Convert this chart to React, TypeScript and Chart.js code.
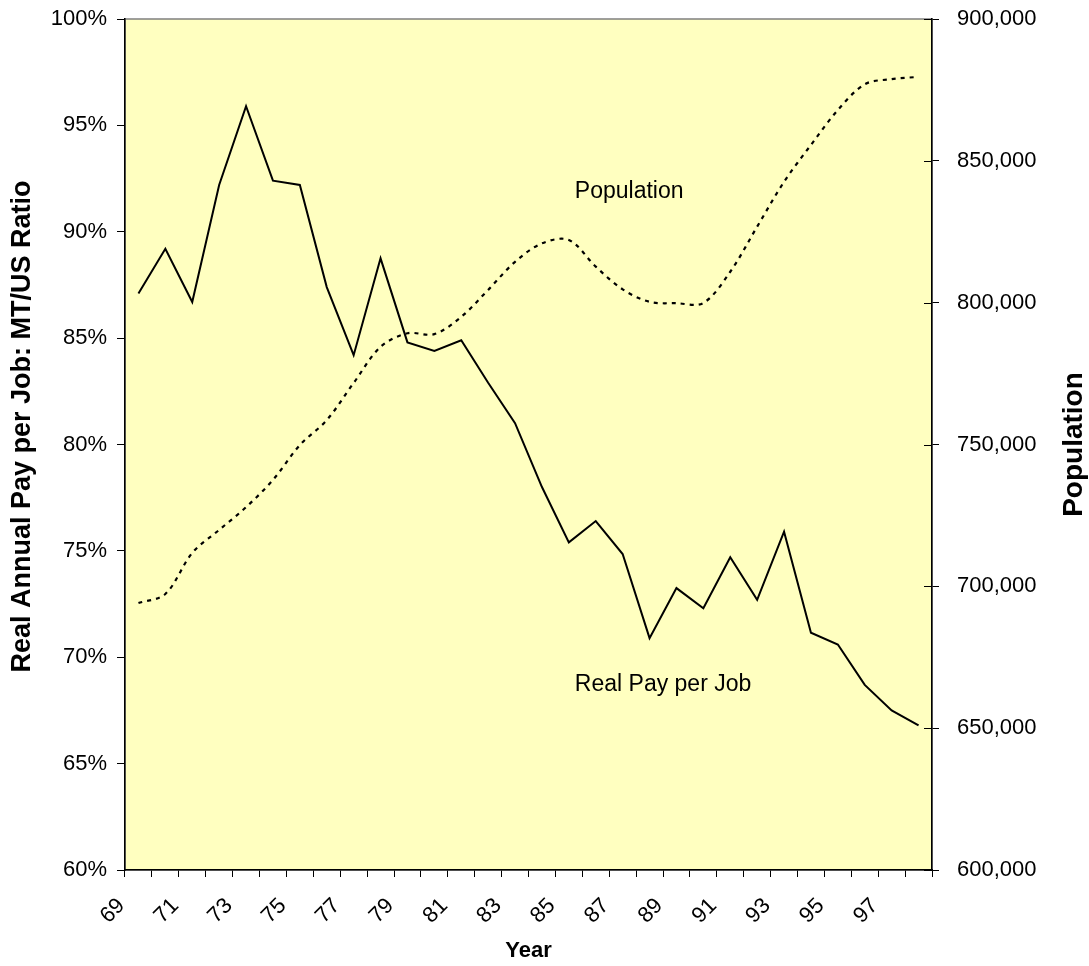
import React, { useEffect, useRef } from 'react';
import { Chart, registerables } from 'chart.js';

Chart.register(...registerables);

// Years 1969–1998, shown as two-digit labels
const years = [
  '69', '70', '71', '72', '73', '74', '75', '76', '77', '78',
  '79', '80', '81', '82', '83', '84', '85', '86', '87', '88',
  '89', '90', '91', '92', '93', '94', '95', '96', '97', '98',
];

// Montana / US real annual pay per job (percent)
const payRatio = [
  87.1, 89.2, 86.7, 92.2, 95.9, 92.4, 92.2, 87.4, 84.2, 88.75,
  84.8, 84.4, 84.9, 82.9, 81.0, 78.0, 75.4, 76.4, 74.85, 70.9,
  73.25, 72.3, 74.7, 72.7, 75.9, 71.15, 70.6, 68.7, 67.5, 66.8,
];

// Montana population
const population = [
  694100, 697300, 711800, 719900, 727900, 737500, 749800, 758600, 771700, 784400,
  789200, 788900, 795000, 804500, 814400, 820900, 822100, 812700, 804700, 800300,
  799800, 799900, 810900, 826800, 842600, 855600, 867900, 877000, 878800, 879600,
];

// Axis ranges
const pctMin = 60;
const pctMax = 100;
const pctStep = 5;
const popMin = 600000;
const popMax = 900000;
const popStep = 50000;

// Axis titles
const leftTitle = 'Real Annual Pay per Job: MT/US Ratio';
const rightTitle = 'Population';
const bottomTitle = 'Year';

// In-plot series labels: anchored at a category index and an axis value
const seriesLabels = [
  { text: 'Population', index: 16, axis: 'yPop', value: 837000 },
  { text: 'Real Pay per Job', index: 16, axis: 'yPct', value: 68.4 },
];

const FONT = 'Arial, "Liberation Sans", Helvetica, sans-serif';

// Fixed box sizes for the axes so the plot area sits where it should
const fitBox = (w: number | null, h: number | null) => (s: any) => {
  if (w !== null) s.width = w;
  if (h !== null) s.height = h;
  s.paddingTop = 0;
  s.paddingBottom = 0;
  s.paddingLeft = 0;
  s.paddingRight = 0;
};

const plotBackground = {
  id: 'plotBackground',
  beforeDraw(chart: any) {
    const { ctx, chartArea: a } = chart;
    ctx.save();
    ctx.fillStyle = 'rgb(255,255,192)';
    ctx.fillRect(a.left, a.top, a.right - a.left, a.bottom - a.top);
    ctx.strokeStyle = '#808080';
    ctx.lineWidth = 1.5;
    ctx.strokeRect(a.left, a.top, a.right - a.left, a.bottom - a.top);
    ctx.restore();
  },
};

const extras = {
  id: 'extras',
  afterDraw(chart: any) {
    const { ctx, chartArea: a, scales } = chart;
    const midY = (a.top + a.bottom) / 2;
    ctx.save();
    // inner half of the right-axis tick marks
    const yPop = scales.yPop;
    ctx.strokeStyle = '#000';
    ctx.lineWidth = 1;
    yPop.ticks.forEach((t: any) => {
      const y = Math.round(yPop.getPixelForValue(t.value)) + 0.5;
      ctx.beginPath();
      ctx.moveTo(a.right - 8, y);
      ctx.lineTo(a.right, y);
      ctx.stroke();
    });
    ctx.fillStyle = '#000';
    ctx.textAlign = 'center';
    ctx.textBaseline = 'middle';
    // left axis title, reading bottom to top
    ctx.save();
    ctx.font = `bold 27px ${FONT}`;
    ctx.translate(23, midY - 18);
    ctx.rotate(-Math.PI / 2);
    ctx.fillText(leftTitle, 0, 0);
    ctx.restore();
    // right axis title, reading bottom to top
    ctx.save();
    ctx.font = `bold 28px ${FONT}`;
    ctx.translate(1074, midY);
    ctx.rotate(-Math.PI / 2);
    ctx.fillText(rightTitle, 0, 0);
    ctx.restore();
    ctx.restore();

    // series labels inside the plot
    ctx.save();
    ctx.fillStyle = '#000';
    ctx.font = `23px ${FONT}`;
    ctx.textAlign = 'left';
    ctx.textBaseline = 'alphabetic';
    seriesLabels.forEach((l) => {
      const x = scales.x.getPixelForValue(l.index) + 6;
      const y = scales[l.axis].getPixelForValue(l.value);
      ctx.fillText(l.text, x, y);
    });
    ctx.restore();
  },
};

export default function App() {
  const canvasRef = useRef<HTMLCanvasElement | null>(null);

  useEffect(() => {
    const canvas = canvasRef.current;
    if (!canvas) return;
    Chart.defaults.font.family = FONT;
    Chart.defaults.color = '#000';

    const chart = new Chart(canvas, {
      type: 'line',
      data: {
        labels: years,
        datasets: [
          {
            label: 'Real Pay per Job',
            data: payRatio,
            yAxisID: 'yPct',
            borderColor: '#000',
            borderWidth: 2,
            pointRadius: 0,
            tension: 0,
            fill: false,
          },
          {
            label: 'Population',
            data: population,
            yAxisID: 'yPop',
            borderColor: '#000',
            borderWidth: 2.2,
            borderDash: [4, 5],
            pointRadius: 0,
            tension: 0.33,
            fill: false,
          },
        ],
      },
      options: {
        responsive: false,
        animation: false,
        devicePixelRatio: 1,
        layout: { padding: { top: 19, left: 0, right: 0, bottom: 0 } },
        plugins: {
          legend: { display: false },
          tooltip: { enabled: false },
        },
        scales: {
          x: {
            type: 'category',
            offset: true,
            grid: {
              offset: true,
              drawOnChartArea: false,
              drawTicks: true,
              tickLength: 7,
              color: '#000',
            },
            border: { display: true, color: '#000', width: 1.5 },
            ticks: {
              autoSkip: false,
              maxRotation: 45,
              minRotation: 45,
              labelOffset: -17,
              padding: 16,
              font: { size: 22 },
              color: '#000',
              callback: (_v: any, i: number) => (i % 2 === 0 ? years[i] : ''),
            },
            title: {
              display: true,
              text: bottomTitle,
              font: { size: 22, weight: 'bold' },
              padding: { top: 0, bottom: 2 },
              color: '#000',
            },
            afterFit: fitBox(null, 96),
          },
          yPct: {
            type: 'linear',
            position: 'left',
            min: pctMin,
            max: pctMax,
            grid: {
              drawOnChartArea: false,
              tickLength: 8,
              color: '#000',
            },
            border: { display: true, color: '#000', width: 1.5 },
            ticks: {
              stepSize: pctStep,
              padding: 10,
              font: { size: 22 },
              color: '#000',
              callback: (v: any) => `${v}%`,
            },
            afterFit: fitBox(125, null),
          },
          yPop: {
            type: 'linear',
            position: 'right',
            min: popMin,
            max: popMax,
            grid: {
              drawOnChartArea: false,
              tickLength: 7,
              color: '#000',
            },
            border: { display: true, color: '#000', width: 1.5 },
            ticks: {
              stepSize: popStep,
              padding: 18,
              font: { size: 22 },
              color: '#000',
              callback: (v: any) => Number(v).toLocaleString('en-US'),
            },
            afterFit: fitBox(157, null),
          },
        },
      },
      plugins: [plotBackground, extras],
    });

    return () => chart.destroy();
  }, []);

  return (
    <div style={{ position: 'absolute', left: 0, top: 0, width: 1089, height: 966, background: '#fff' }}>
      <canvas ref={canvasRef} width={1089} height={966} style={{ display: 'block' }} />
    </div>
  );
}
